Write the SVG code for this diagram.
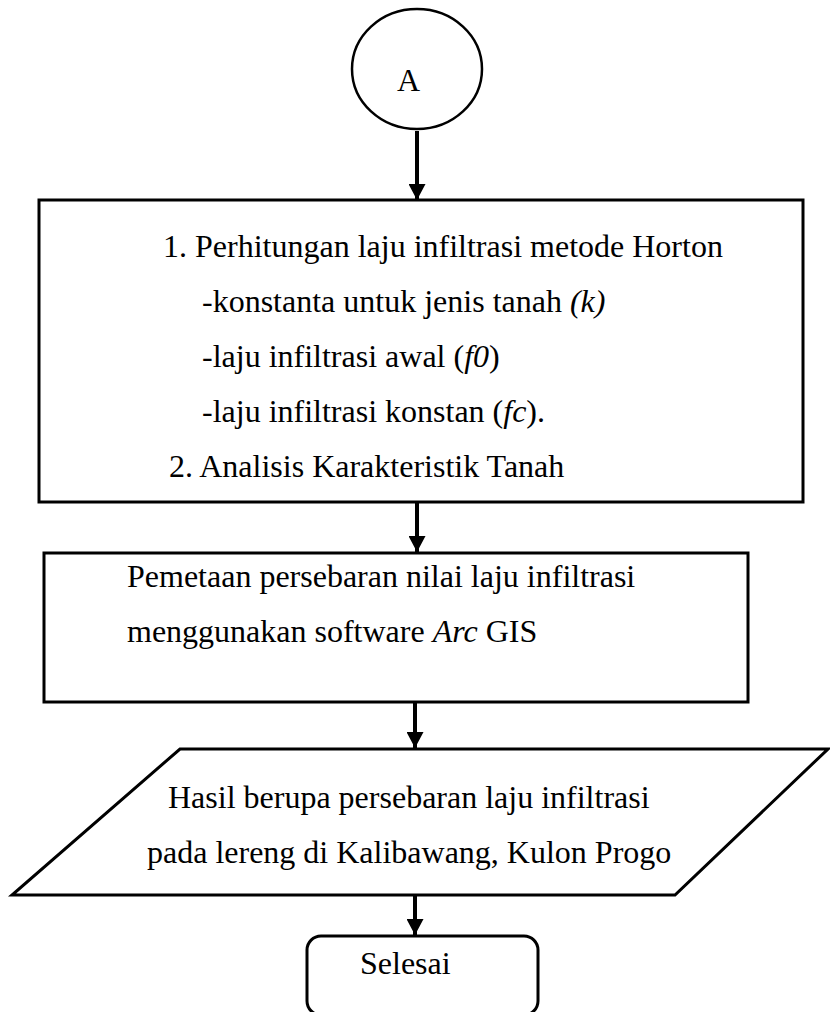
<svg xmlns="http://www.w3.org/2000/svg" width="830" height="1012" viewBox="0 0 830 1012">
<style>
.t{font-family:"Liberation Serif","Times New Roman",serif;font-size:32px;fill:#000}
.i{font-style:italic}
.s{fill:#fff;stroke:#000;stroke-width:3}
.c{stroke:#000;stroke-width:4;fill:none}
</style>
<defs>
<marker id="ah" viewBox="0 0 16 17" refX="16" refY="8.5" markerWidth="16" markerHeight="17" markerUnits="userSpaceOnUse" orient="auto">
<path d="M0,0 L16,8.5 L0,17 Z" fill="#000"/>
</marker>
</defs>
<rect width="830" height="1012" fill="#fff"/>
<g id="connectors">
<line class="c" x1="417" y1="131" x2="417" y2="200" marker-end="url(#ah)"/>
<line class="c" x1="417" y1="502" x2="417" y2="552" marker-end="url(#ah)"/>
<line class="c" x1="415" y1="703" x2="415" y2="748" marker-end="url(#ah)"/>
<line class="c" x1="415" y1="896" x2="415" y2="935" marker-end="url(#ah)"/>
</g>
<g id="node-a">
<ellipse class="s" cx="417" cy="69" rx="65" ry="60" style="stroke-width:2.5"/>
<text class="t" x="397" y="91">A</text>
</g>
<g id="node-horton">
<rect class="s" x="39" y="200" width="764" height="302"/>
<text class="t" x="163" y="257">1. Perhitungan laju infiltrasi metode Horton</text>
<text class="t" x="202" y="312">-konstanta untuk jenis tanah <tspan class="i">(k)</tspan></text>
<text class="t" x="202" y="367">-laju infiltrasi awal (<tspan class="i">f0</tspan>)</text>
<text class="t" x="202" y="422">-laju infiltrasi konstan (<tspan class="i">fc</tspan>).</text>
<text class="t" x="169" y="477">2. Analisis Karakteristik Tanah</text>
</g>
<g id="node-pemetaan">
<rect class="s" x="44" y="553" width="704" height="149"/>
<text class="t" x="127" y="587">Pemetaan persebaran nilai laju infiltrasi</text>
<text class="t" x="127" y="642">menggunakan software <tspan class="i">Arc</tspan> GIS</text>
</g>
<g id="node-hasil">
<polygon class="s" points="180,749 828,749 675,895 12,895"/>
<text class="t" x="168" y="808">Hasil berupa persebaran laju infiltrasi</text>
<text class="t" x="147" y="863">pada lereng di Kalibawang, Kulon Progo</text>
</g>
<g id="node-selesai">
<rect class="s" x="307" y="936" width="231" height="79" rx="14"/>
<text class="t" x="360" y="974">Selesai</text>
</g>
</svg>
